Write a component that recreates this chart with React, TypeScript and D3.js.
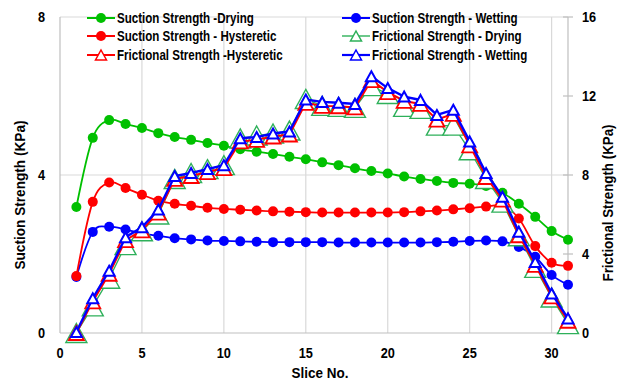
import React from "react";
import * as d3 from "d3";

const slices = d3.range(1, 32);

const suctionDrying = [3.19, 4.94, 5.39, 5.29, 5.19, 5.06, 4.96, 4.89, 4.81, 4.74, 4.65, 4.59, 4.53, 4.46, 4.4, 4.32, 4.25, 4.17, 4.1, 4.04, 3.96, 3.9, 3.85, 3.8, 3.78, 3.72, 3.55, 3.27, 2.94, 2.58, 2.36];
const suctionWetting = [1.42, 2.56, 2.69, 2.62, 2.52, 2.46, 2.4, 2.37, 2.34, 2.33, 2.32, 2.31, 2.3, 2.3, 2.3, 2.3, 2.29, 2.29, 2.29, 2.29, 2.29, 2.29, 2.3, 2.31, 2.33, 2.34, 2.32, 2.18, 1.93, 1.47, 1.22];
const suctionHysteretic = [1.44, 3.32, 3.81, 3.67, 3.5, 3.35, 3.27, 3.22, 3.17, 3.14, 3.12, 3.1, 3.08, 3.07, 3.06, 3.05, 3.05, 3.05, 3.05, 3.05, 3.06, 3.08, 3.1, 3.13, 3.16, 3.2, 3.22, 2.9, 2.2, 1.78, 1.7];
const frictionalDrying = [0.0, 1.35, 2.75, 4.45, 5.15, 6.0, 7.8, 8.1, 8.3, 8.5, 9.85, 10.0, 10.1, 10.25, 11.85, 11.5, 11.45, 11.4, 12.5, 12.1, 11.45, 11.35, 10.5, 10.5, 9.25, 7.8, 6.6, 4.9, 3.3, 1.8, 0.45];
const frictionalHysteretic = [0.0, 1.6, 3.0, 4.7, 5.2, 6.1, 7.8, 7.95, 8.15, 8.35, 9.7, 9.78, 9.95, 10.05, 11.65, 11.5, 11.48, 11.42, 12.8, 12.2, 11.75, 11.6, 10.8, 11.1, 9.5, 7.9, 6.75, 4.95, 3.45, 1.85, 0.62];
const frictionalWetting = [0.05, 1.76, 3.15, 4.85, 5.35, 6.25, 7.95, 8.1, 8.3, 8.5, 9.86, 9.92, 10.1, 10.2, 11.82, 11.7, 11.66, 11.6, 13.0, 12.4, 11.97, 11.8, 11.04, 11.3, 9.7, 8.1, 6.9, 5.13, 3.6, 2.0, 0.74];

const xTicks = [0, 5, 10, 15, 20, 25, 30];
const yLeftTicks = [0, 4, 8];
const yRightTicks = [0, 4, 8, 12, 16];

const legendLabels = [
  "Suction Strength -Drying",
  "Suction Strength - Hysteretic",
  "Frictional Strength -Hysteretic",
  "Suction Strength - Wetting",
  "Frictional Strength - Drying",
  "Frictional Strength - Wetting",
];

const GREEN = "#00c000";
const GREEN_T = "#2eb05a";
const RED = "#ff0000";
const BLUE = "#0000ff";
const FONT = "'Liberation Sans', Arial, Helvetica, sans-serif";

const W = 621;
const H = 383;
const L = 60, R = 568, T = 17, B = 333;

const x = d3.scaleLinear().domain([0, 31]).range([L, R]);
const yL = d3.scaleLinear().domain([0, 8]).range([B, T]);
const yR = d3.scaleLinear().domain([0, 16]).range([B, T]);

function tri(w: number, h: number) {
  return `M0,${-h / 2}L${w / 2},${h / 2}L${-w / 2},${h / 2}Z`;
}

type Pt = [number, number];

const smooth = d3.line<Pt>().x(d => d[0]).y(d => d[1]).curve(d3.curveCardinal.tension(0));
const straight = d3.line<Pt>().x(d => d[0]).y(d => d[1]);

function pts(vals: number[], y: d3.ScaleLinear<number, number>): Pt[] {
  return vals.map((v, i) => [x(slices[i]), y(v)] as Pt);
}

function NText(props: { x: number; y: number; text: string; size: number; sx: number; anchor?: string; rotate?: number }) {
  const { x: tx, y: ty, text, size, sx, anchor = "start", rotate = 0 } = props;
  return (
    <text
      transform={`translate(${tx},${ty}) rotate(${rotate}) scale(${sx},1)`}
      fontFamily={FONT}
      fontWeight="bold"
      fontSize={size}
      textAnchor={anchor}
      fill="#000"
    >
      {text}
    </text>
  );
}

export default function App() {
  const sD = pts(suctionDrying, yL);
  const sW = pts(suctionWetting, yL);
  const sH = pts(suctionHysteretic, yL);
  const fD = pts(frictionalDrying, yR);
  const fH = pts(frictionalHysteretic, yR);
  const fW = pts(frictionalWetting, yR);

  const legend = [
    { lx: 87, ly: 18, color: GREEN, kind: "circle", lw: 2 },
    { lx: 87, ly: 36, color: RED, kind: "circle", lw: 2 },
    { lx: 87, ly: 55, color: RED, kind: "tri", lw: 2 },
    { lx: 342, ly: 18, color: BLUE, kind: "circle", lw: 2 },
    { lx: 342, ly: 36, color: GREEN_T, kind: "tri", lw: 1.4 },
    { lx: 342, ly: 55, color: BLUE, kind: "tri", lw: 2.2 },
  ];

  return (
    <div style={{ position: "absolute", left: 0, top: 0 }}>
      <svg width={W} height={H} viewBox={`0 0 ${W} ${H}`} style={{ display: "block", background: "#fff" }}>
        <rect x={0} y={0} width={W} height={H} fill="#fff" />
        {/* gridlines */}
        {xTicks.filter(t => t > 0).map(t => (
          <line key={"gx" + t} x1={x(t)} x2={x(t)} y1={T} y2={B} stroke="#d9d9d9" strokeWidth={1.2} />
        ))}
        {yLeftTicks.filter(t => t > 0).map(t => (
          <line key={"gy" + t} x1={L} x2={R} y1={yL(t)} y2={yL(t)} stroke="#d9d9d9" strokeWidth={1.2} />
        ))}
        {/* axes */}
        <line x1={L} x2={L} y1={T} y2={B} stroke="#bfbfbf" strokeWidth={1.2} />
        <line x1={R} x2={R} y1={T} y2={B} stroke="#bfbfbf" strokeWidth={1.2} />
        <line x1={L} x2={R} y1={B} y2={B} stroke="#bfbfbf" strokeWidth={1.2} />
        {yRightTicks.map(t => (
          <line key={"rt" + t} x1={R - 5} x2={R + 5} y1={yR(t)} y2={yR(t)} stroke="#bfbfbf" strokeWidth={1.2} />
        ))}

        {/* tick labels */}
        {xTicks.map(t => (
          <NText key={"xt" + t} x={x(t)} y={358} text={String(t)} size={15} sx={0.85} anchor="middle" />
        ))}
        {yLeftTicks.map(t => (
          <NText key={"yl" + t} x={45} y={yL(t) + 5} text={String(t)} size={15} sx={0.85} anchor="end" />
        ))}
        {yRightTicks.map(t => (
          <NText key={"yr" + t} x={582} y={yR(t) + 5} text={String(t)} size={15} sx={0.85} anchor="start" />
        ))}

        {/* axis titles */}
        <NText x={320} y={378} text="Slice No." size={14.5} sx={0.93} anchor="middle" />
        <NText x={25} y={195} text="Suction Strength (KPa)" size={14.5} sx={0.94} anchor="middle" rotate={-90} />
        <NText x={613} y={203} text="Frictional Strength (KPa)" size={14.5} sx={0.92} anchor="middle" rotate={-90} />

        {/* suction series (primary axis) */}
        <path d={smooth(sD) || ""} fill="none" stroke={GREEN} strokeWidth={1.8} />
        {sD.map((p, i) => <circle key={"sd" + i} cx={p[0]} cy={p[1]} r={5} fill={GREEN} />)}
        <path d={smooth(sW) || ""} fill="none" stroke={BLUE} strokeWidth={1.8} />
        {sW.map((p, i) => <circle key={"sw" + i} cx={p[0]} cy={p[1]} r={5} fill={BLUE} />)}
        <path d={smooth(sH) || ""} fill="none" stroke={RED} strokeWidth={1.8} />
        {sH.map((p, i) => <circle key={"sh" + i} cx={p[0]} cy={p[1]} r={5} fill={RED} />)}

        {/* frictional series (secondary axis) */}
        <path d={straight(fD) || ""} fill="none" stroke={GREEN_T} strokeWidth={1.3} />
        {fD.map((p, i) => (
          <path key={"fd" + i} d={tri(21, 19)} transform={`translate(${p[0]},${p[1]})`} fill="#fff" stroke={GREEN_T} strokeWidth={1.4} />
        ))}
        <path d={straight(fH) || ""} fill="none" stroke={RED} strokeWidth={2} />
        {fH.map((p, i) => (
          <path key={"fh" + i} d={tri(15, 14)} transform={`translate(${p[0]},${p[1]})`} fill="#fff" stroke={RED} strokeWidth={1.8} />
        ))}
        <path d={straight(fW) || ""} fill="none" stroke={BLUE} strokeWidth={2.4} strokeLinejoin="miter" />
        {fW.map((p, i) => (
          <path key={"fw" + i} d={tri(11, 10)} transform={`translate(${p[0]},${p[1]})`} fill="#fff" stroke={BLUE} strokeWidth={2} />
        ))}

        {/* legend */}
        {legend.map((g, i) => (
          <g key={"lg" + i}>
            <line x1={g.lx} x2={g.lx + 28} y1={g.ly} y2={g.ly} stroke={g.color} strokeWidth={g.lw} />
            {g.kind === "circle" ? (
              <circle cx={g.lx + 14} cy={g.ly} r={5} fill={g.color} />
            ) : (
              <path d={tri(11, 10)} transform={`translate(${g.lx + 14},${g.ly})`} fill="#fff" stroke={g.color} strokeWidth={1.5} />
            )}
            <NText x={g.lx + 30} y={g.ly + 5} text={legendLabels[i]} size={14} sx={0.827} anchor="start" />
          </g>
        ))}
      </svg>
    </div>
  );
}
